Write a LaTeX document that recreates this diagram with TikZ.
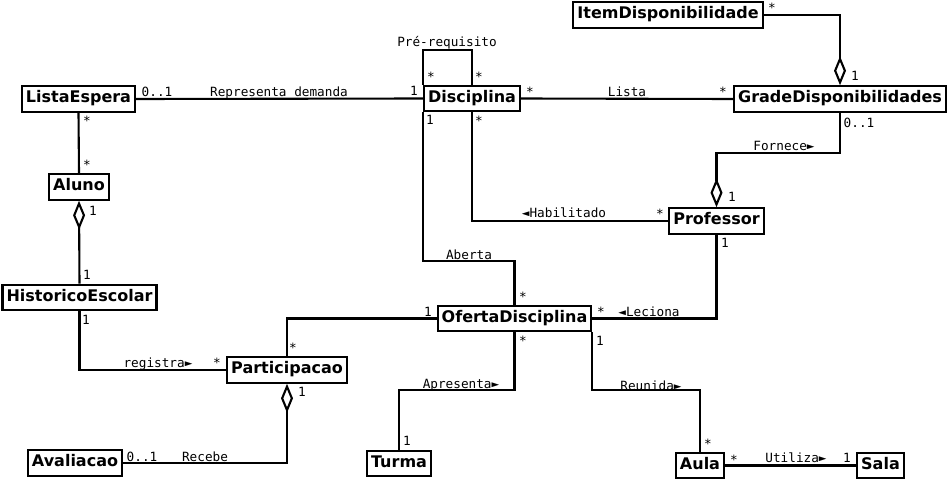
\documentclass[tikz,border=0pt]{standalone}
\usepackage{fontspec}
\setmainfont{DejaVu Sans}
\setmonofont{DejaVu Sans Mono}
\usetikzlibrary{arrows.meta}
\tikzset{
    classnode/.style={draw,line width=2.1pt,font=\bfseries\fontsize{16}{18}\selectfont,inner xsep=4pt,inner ysep=5pt,text height=11.7pt,text depth=3.8pt},
    multnode/.style={font=\ttfamily\fontsize{12.7}{14}\selectfont,inner sep=0pt,text height=9.3pt,text depth=0pt},
    assoc/.style={line width=2.1pt},
    aggr/.style={line width=2.1pt,{Diamond[open,length=29pt,width=12pt]}-}
}

\begin{document}
\begin{tikzpicture}[x=1pt,y=-1pt]
        \useasboundingbox (0,0) rectangle (949,484);
        % classes
        \node[classnode] (ListaEspera) at (78.5,99) {ListaEspera};
        \node[classnode] (Aluno) at (79,187) {Aluno};
        \node[classnode] (HistoricoEscolar) at (79.5,297.5) {HistoricoEscolar};
        \node[classnode] (Participacao) at (287,370) {Participacao};
        \node[classnode] (Avaliacao) at (75,463) {Avaliacao};
        \node[classnode] (Disciplina) at (472,98.5) {Disciplina};
        \node[classnode] (ItemDisponibilidade) at (668,15) {ItemDisponibilidade};
        \node[classnode] (GradeDisponibilidades) at (840,99) {GradeDisponibilidades};
        \node[classnode] (Professor) at (716.5,221) {Professor};
        \node[classnode] (OfertaDisciplina) at (514.5,318.5) {OfertaDisciplina};
        \node[classnode] (Turma) at (399,463.5) {Turma};
        \node[classnode] (Aula) at (700,465.5) {Aula};
        \node[classnode] (Sala) at (880.5,465.5) {Sala};

        %associations
        \draw[assoc] (ListaEspera.east) -- (Disciplina.west)
            node[multnode] at (157,92) {0..1}
            node[multnode] at (279,92) {Representa demanda}
            node[multnode] at (414,91) {1};
        \draw[assoc] (ListaEspera.south) -- (Aluno.north)
            node[multnode] at (87,121) {*}
            node[multnode] at (87,165) {*};
        \draw[aggr] (Aluno.south) -- (HistoricoEscolar.north)
            node[multnode] at (93,211) {1}
            node[multnode] at (87,275) {1};
        \draw[assoc] (HistoricoEscolar.south) |- (Participacao.west)
            node[multnode] at (86,320) {1}
            node[multnode] at (158,363) {registra►}
            node[multnode] at (217,363) {*};
        \draw[assoc] (Participacao.north) |- (OfertaDisciplina.west)
            node[multnode] at (293,348) {*}
            node[multnode] at (428,312) {1};
        \draw[aggr] (Participacao.south) |- (Avaliacao.east)
            node[multnode] at (302,392) {1}
            node[multnode] at (142,457) {0..1}
            node[multnode] at (205,457) {Recebe};
        \draw[assoc] (Disciplina.north west) -- ++(0,-35) -| (Disciplina.north)
            node[multnode] at (431,77) {*}
            node[multnode] at (479,77) {*}
            node[multnode] at (447,42) {Pré-requisito};
        \draw[assoc] (Disciplina.east) -- (GradeDisponibilidades.west)
            node[multnode] at (530,92) {*}
            node[multnode] at (627,92) {Lista}
            node[multnode] at (723,92) {*};
        \draw[assoc] (Disciplina.south west) -- ++(0,149) -| (OfertaDisciplina.north)
            node[multnode] at (430,120) {1}
            node[multnode] at (469,255) {Aberta}
            node[multnode] at (523,297) {*};
        \draw[assoc] (Disciplina.south) |- (Professor.west)
            node[multnode] at (479,121) {*}
            node[multnode] at (564,213) {◄Habilitado}
            node[multnode] at (660,214) {*};
        \draw[aggr] (GradeDisponibilidades.north) |- (ItemDisponibilidade.east)
            node[multnode] at (772,8) {*}
            node[multnode] at (855,76) {1};
        \draw[aggr] (Professor.north) -- ++(0,-54) -| (GradeDisponibilidades.south)
            node[multnode] at (859,123) {0..1}
            node[multnode] at (784,146) {Fornece►}
            node[multnode] at (732,197) {1};
        \draw[assoc] (Professor.south) |- (OfertaDisciplina.east)
            node[multnode] at (725,243) {1}
            node[multnode] at (601,312) {*}
            node[multnode] at (649,312) {◄Leciona};
        \draw[assoc] (OfertaDisciplina.south) -- ++(0,58) -| (Turma.north)
            node[multnode] at (523,341) {*}
            node[multnode] at (461,384) {Apresenta►}
            node[multnode] at (407,441) {1};
        \draw[assoc] (OfertaDisciplina.south east) -- ++(0,58) -| (Aula.north)
            node[multnode] at (600,341) {1}
            node[multnode] at (651,386) {Reunida►}
            node[multnode] at (708,444) {*};
        \draw[assoc] (Aula.east) -- (Sala.west)
            node[multnode] at (734,460) {*}
            node[multnode] at (796,458) {Utiliza►}
            node[multnode] at (847,458) {1};
\end{tikzpicture}
\end{document}
